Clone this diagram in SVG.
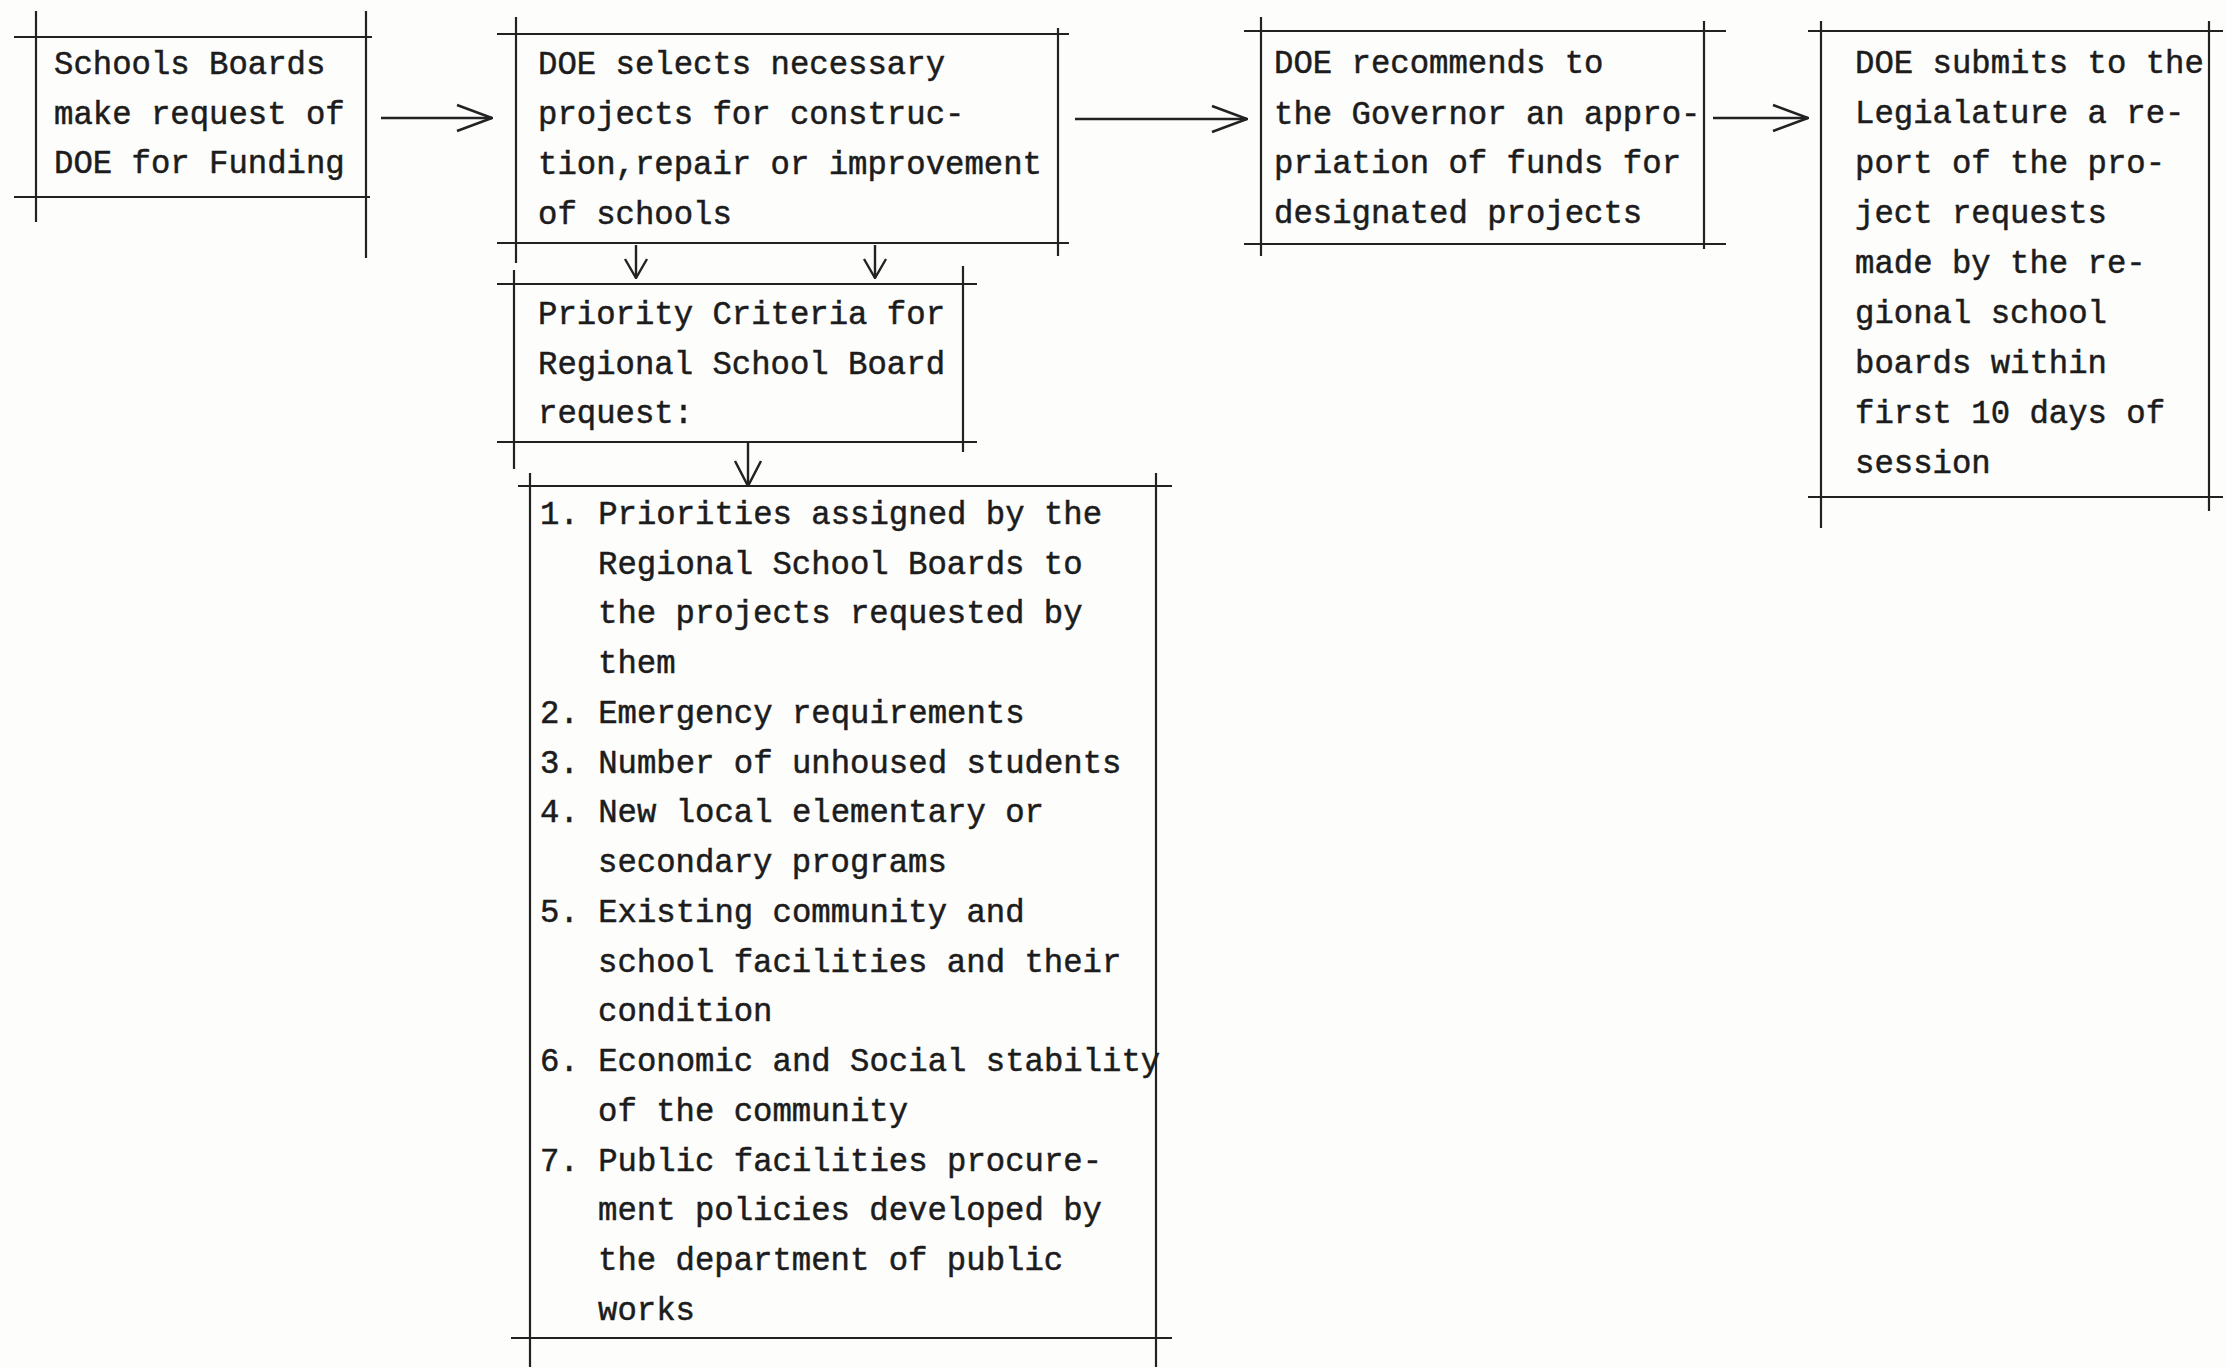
<svg xmlns="http://www.w3.org/2000/svg" width="2227" height="1367" viewBox="0 0 2227 1367">
<style>
.bg{fill:#fdfdfc}
.ln{stroke:#222;stroke-width:2.2;fill:none}
.t{font-family:"Liberation Mono","Courier New",monospace;font-size:32.3px;fill:#1c1c1c;stroke:#1c1c1c;stroke-width:0.5}
.c{stroke:#222;stroke-width:2.4;fill:none}
</style>
<defs>
<marker id="ah" viewBox="0 0 38 30" refX="37" refY="15" markerWidth="38" markerHeight="30" orient="auto" markerUnits="userSpaceOnUse">
<path d="M2,2 L37,15 L2,28" fill="none" stroke="#222" stroke-width="2.6"/>
</marker>
<marker id="ahs" viewBox="0 0 22 26" refX="21" refY="13" markerWidth="22" markerHeight="26" orient="auto" markerUnits="userSpaceOnUse">
<path d="M2,2 L21,13 L2,24" fill="none" stroke="#222" stroke-width="2.4"/>
</marker>
<marker id="ahm" viewBox="0 0 28 30" refX="27" refY="15" markerWidth="28" markerHeight="30" orient="auto" markerUnits="userSpaceOnUse">
<path d="M2,2 L27,15 L2,28" fill="none" stroke="#222" stroke-width="2.5"/>
</marker>
</defs>
<rect class="bg" x="0" y="0" width="2227" height="1367"/>

<g id="node-school-boards">
<path class="ln" d="M14,37 H372 M14,197 H370 M36,11 V222 M366,11 V258"/>
<text class="t" x="54" y="74">Schools Boards</text>
<text class="t" x="54" y="124">make request of</text>
<text class="t" x="54" y="173">DOE for Funding</text>
</g>

<g id="node-doe-selects">
<path class="ln" d="M497,34 H1069 M497,243 H1069 M516,17 V263 M1058,28 V256"/>
<text class="t" x="538" y="74">DOE selects necessary</text>
<text class="t" x="538" y="124">projects for construc-</text>
<text class="t" x="538" y="174">tion,repair or improvement</text>
<text class="t" x="538" y="224">of schools</text>
</g>

<g id="node-priority-criteria">
<path class="ln" d="M497,284 H977 M497,442 H977 M514,270 V469 M963,266 V452"/>
<text class="t" x="538" y="324">Priority Criteria for</text>
<text class="t" x="538" y="374">Regional School Board</text>
<text class="t" x="538" y="423">request:</text>
</g>

<g id="node-criteria-list">
<path class="ln" d="M518,486 H1172 M511,1338 H1172 M530,473 V1367 M1156,473 V1367"/>
<text class="t" x="540" y="524">1. Priorities assigned by the</text>
<text class="t" x="598" y="574">Regional School Boards to</text>
<text class="t" x="598" y="623">the projects requested by</text>
<text class="t" x="598" y="673">them</text>
<text class="t" x="540" y="723">2. Emergency requirements</text>
<text class="t" x="540" y="773">3. Number of unhoused students</text>
<text class="t" x="540" y="822">4. New local elementary or</text>
<text class="t" x="598" y="872">secondary programs</text>
<text class="t" x="540" y="922">5. Existing community and</text>
<text class="t" x="598" y="972">school facilities and their</text>
<text class="t" x="598" y="1021">condition</text>
<text class="t" x="540" y="1071">6. Economic and Social stability</text>
<text class="t" x="598" y="1121">of the community</text>
<text class="t" x="540" y="1171">7. Public facilities procure-</text>
<text class="t" x="598" y="1220">ment policies developed by</text>
<text class="t" x="598" y="1270">the department of public</text>
<text class="t" x="598" y="1320">works</text>
</g>

<g id="node-doe-recommends">
<path class="ln" d="M1244,31 H1726 M1244,244 H1726 M1261,17 V256 M1704,21 V249"/>
<text class="t" x="1274" y="73">DOE recommends to</text>
<text class="t" x="1274" y="124">the Governor an appro-</text>
<text class="t" x="1274" y="173">priation of funds for</text>
<text class="t" x="1274" y="223">designated projects</text>
</g>

<g id="node-doe-submits">
<path class="ln" d="M1808,31 H2223 M1808,497 H2223 M1821,21 V528 M2209,21 V511"/>
<text class="t" x="1855" y="73">DOE submits to the</text>
<text class="t" x="1855" y="123">Legialature a re-</text>
<text class="t" x="1855" y="173">port of the pro-</text>
<text class="t" x="1855" y="223">ject requests</text>
<text class="t" x="1855" y="273">made by the re-</text>
<text class="t" x="1855" y="323">gional school</text>
<text class="t" x="1855" y="373">boards within</text>
<text class="t" x="1855" y="423">first 10 days of</text>
<text class="t" x="1855" y="473">session</text>
</g>

<g id="connectors">
<line class="c" x1="381" y1="118" x2="492" y2="118" marker-end="url(#ah)"/>
<line class="c" x1="1075" y1="119" x2="1247" y2="119" marker-end="url(#ah)"/>
<line class="c" x1="1713" y1="118" x2="1808" y2="118" marker-end="url(#ah)"/>
<line class="c" x1="636" y1="245" x2="636" y2="278" marker-end="url(#ahs)"/>
<line class="c" x1="875" y1="245" x2="875" y2="278" marker-end="url(#ahs)"/>
<line class="c" x1="748" y1="443" x2="748" y2="486" marker-end="url(#ahm)"/>
</g>
</svg>
